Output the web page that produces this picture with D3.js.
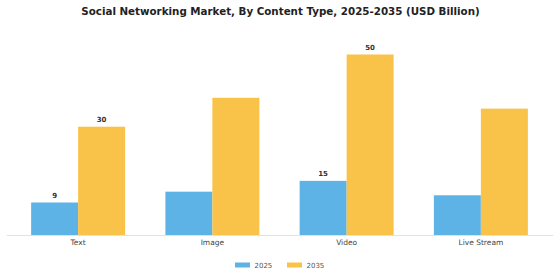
<!DOCTYPE html>
<meta charset="utf-8">
<style>
body { margin: 0; background: #fff; }
text { font-family: "DejaVu Sans", sans-serif; }
</style>
<svg width="560" height="280"></svg>
<script src="https://d3js.org/d3.v7.min.js"></script>
<script>
let categories = ["Text", "Image", "Video", "Live Stream"];
let years = ["2025", "2035"];
let values2025 = [9, 12, 15, 11];
let values2035 = [30, 38, 50, 35];
let shownLabels2025 = [true, false, true, false];
let shownLabels2035 = [true, false, true, false];
let colors = ["#5db3e6", "#f9c249"];

let svg = d3.select("svg"),
    width = +svg.attr("width"),
    height = +svg.attr("height");

let baseY = 235, topY = 54.5;

let x = d3.scaleBand().domain(categories).range([11, 548]).paddingInner(0.3).paddingOuter(0.15);
let x1 = d3.scaleBand().domain(years).range([0, x.bandwidth()]);
let y = d3.scaleLinear().domain([0, 50]).range([baseY, topY]);

// title
svg.append("text")
    .attr("x", 280.5).attr("y", 14.5)
    .attr("text-anchor", "middle")
    .attr("font-size", "10.3px")
    .attr("font-weight", "bold")
    .attr("fill", "#222")
    .text("Social Networking Market, By Content Type, 2025-2035 (USD Billion)");

let rows = categories.map(function(c, i) {
  return [
    {cat: c, year: "2025", v: values2025[i], show: shownLabels2025[i]},
    {cat: c, year: "2035", v: values2035[i], show: shownLabels2035[i]}
  ];
});

let groups = svg.append("g").selectAll("g")
    .data(rows).enter().append("g")
    .attr("transform", function(d) { return "translate(" + x(d[0].cat) + ",0)"; });

groups.selectAll("rect").data(function(d) { return d; }).enter().append("rect")
    .attr("x", function(d) { return x1(d.year); })
    .attr("y", function(d) { return y(d.v); })
    .attr("width", x1.bandwidth())
    .attr("height", function(d) { return baseY - y(d.v); })
    .attr("fill", function(d, i) { return colors[i]; });

groups.selectAll("text.val").data(function(d) { return d.filter(function(e) { return e.show; }); })
    .enter().append("text")
    .attr("class", "val")
    .attr("x", function(d) { return x1(d.year) + x1.bandwidth() / 2; })
    .attr("y", function(d) { return y(d.v) - 5; })
    .attr("text-anchor", "middle")
    .attr("font-size", "7px")
    .attr("font-weight", "bold")
    .attr("fill", "#333")
    .text(function(d) { return d.v; });

// axis
let xAxis = svg.append("g")
    .attr("transform", "translate(0," + baseY + ")")
    .call(d3.axisBottom(x).tickSize(0).tickPadding(4.5));
xAxis.select(".domain").attr("d", "M7,0.5H553").attr("stroke", "#e2e2e2");
xAxis.selectAll("text")
    .attr("font-size", "7.5px")
    .attr("fill", "#444")
    .style("font-family", "DejaVu Sans, sans-serif");

// legend
let legendX = [235, 287];
let legend = svg.append("g").selectAll("g")
    .data(years).enter().append("g")
    .attr("transform", function(d, i) { return "translate(" + legendX[i] + ",265)"; });
legend.append("rect")
    .attr("x", 0).attr("y", -2.5)
    .attr("width", 15).attr("height", 5)
    .attr("fill", function(d, i) { return colors[i]; });
legend.append("text")
    .attr("x", 19.5).attr("y", 2.5)
    .attr("font-size", "7px")
    .attr("fill", "#555")
    .text(function(d) { return d; });
</script>
